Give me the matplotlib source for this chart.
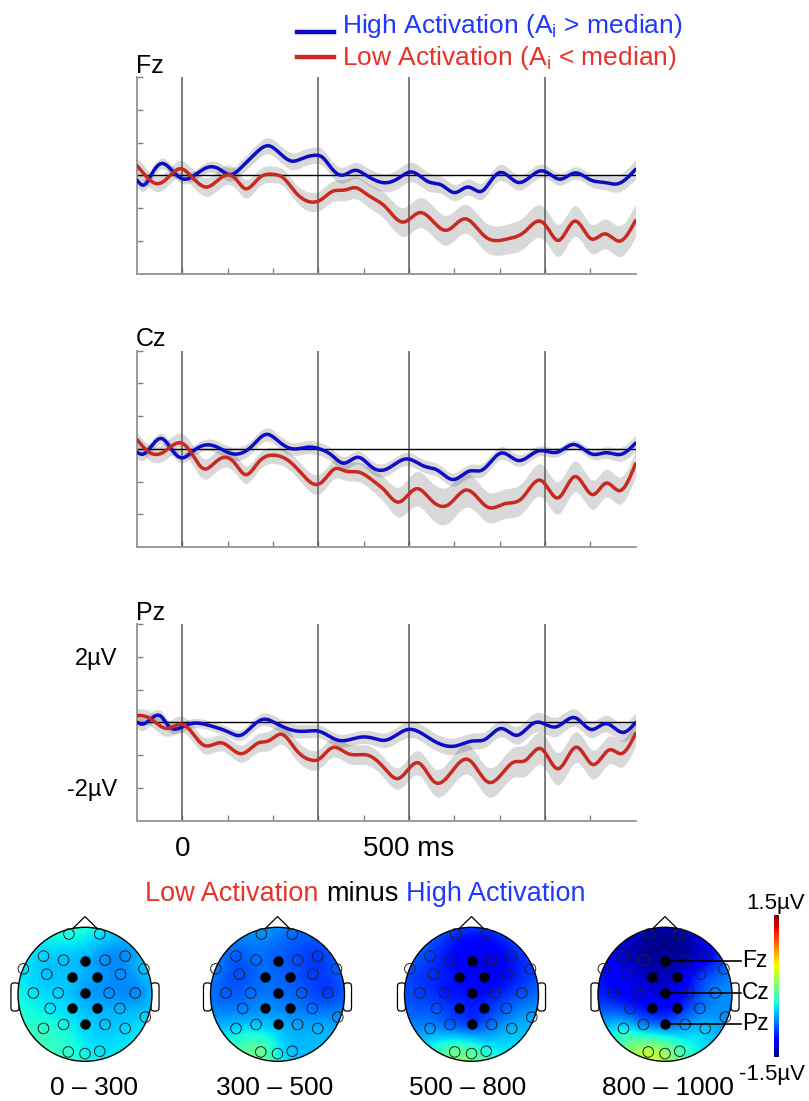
import numpy as np
import matplotlib
matplotlib.use('Agg')
import matplotlib.pyplot as plt
from matplotlib.patches import Circle, Polygon, FancyBboxPatch
from matplotlib.lines import Line2D
import matplotlib.transforms as mtransforms

plt.rcParams['font.family'] = ['Liberation Sans', 'DejaVu Sans']
plt.rcParams['mathtext.fontset'] = 'custom'
plt.rcParams['mathtext.rm'] = 'Liberation Sans'
plt.rcParams['mathtext.it'] = 'Liberation Sans:italic'

# ---------------- data: ERP waveforms (µV) ----------------
FZ_HIGH_T = [-100, -85, -67, -45, -23, 3, 21, 58, 80, 106, 131, 161, 190, 212, 242, 264, 293, 308, 330, 352,
             381, 403, 425, 447, 476, 506, 543, 572, 601, 631, 660, 682, 700, 741, 789, 807, 833, 866, 902,
             932, 961, 1000]
FZ_HIGH_V = [-0.15, -0.3, 0.05, 0.36, 0.15, -0.12, -0.05, 0.25, 0.2, 0.02, 0.25, 0.66, 0.9, 0.71, 0.43, 0.51,
             0.61, 0.56, 0.2, 0.0, 0.15, 0.02, -0.15, -0.23, -0.1, 0.1, -0.2, -0.3, -0.53, -0.36, -0.49, -0.15,
             0.08, -0.22, 0.13, 0.07, -0.12, 0.07, -0.15, -0.22, -0.26, 0.18]
FZ_LOW_T = [-100, -82, -56, -30, -4, 14, 54, 95, 117, 139, 168, 205, 220, 249, 286, 308, 330, 359, 381, 410,
            447, 487, 524, 583, 623, 667, 719, 755, 789, 807, 829, 866, 902, 932, 965, 1000]
FZ_LOW_V = [0.29, 0.0, -0.26, -0.05, 0.2, 0.05, -0.36, 0.0, -0.1, -0.41, -0.1, 0.02, -0.05, -0.51, -0.82,
            -0.73, -0.5, -0.45, -0.38, -0.61, -0.95, -1.43, -1.14, -1.68, -1.33, -1.86, -1.94, -1.73, -1.4,
            -1.63, -1.99, -1.4, -1.94, -1.79, -2.01, -1.38]

CZ_HIGH_T = [-100, -89, -67, -45, -23, -1, 21, 54, 80, 109, 131, 153, 186, 212, 242, 278, 308, 330, 355, 388,
             418, 447, 495, 535, 561, 598, 634, 660, 704, 741, 785, 829, 862, 906, 935, 968, 1000]
CZ_HIGH_V = [-0.1, -0.17, 0.1, 0.31, -0.03, -0.28, -0.1, 0.12, 0.03, -0.15, -0.13, 0.07, 0.44, 0.23, 0.0, 0.05,
             -0.03, -0.2, -0.44, -0.26, -0.56, -0.64, -0.31, -0.54, -0.64, -0.94, -0.68, -0.66, -0.13, -0.36,
             -0.07, -0.1, 0.13, -0.17, -0.12, -0.17, 0.17]
CZ_LOW_T = [-100, -74, -45, -1, 21, 47, 73, 95, 117, 139, 168, 205, 234, 264, 293, 308, 337, 359, 388, 425,
            447, 476, 517, 550, 587, 627, 675, 711, 748, 792, 829, 866, 906, 935, 965, 1000]
CZ_LOW_V = [0.28, -0.1, -0.13, 0.17, -0.15, -0.61, -0.41, -0.26, -0.46, -0.79, -0.41, -0.2, -0.36, -0.77,
            -1.09, -1.02, -0.61, -0.68, -0.71, -1.02, -1.28, -1.63, -1.22, -1.58, -1.71, -1.26, -1.79, -1.68,
            -1.53, -0.97, -1.5, -0.85, -1.4, -1.05, -1.28, -0.46]

PZ_HIGH_T = [-100, -89, -71, -48, -30, -8, 14, 65, 102, 128, 153, 179, 205, 242, 278, 300, 344, 396, 425, 447,
             498, 550, 601, 642, 667, 704, 737, 778, 825, 866, 902, 935, 972, 1000]
PZ_HIGH_V = [0.0, -0.06, 0.08, 0.19, -0.12, -0.19, -0.06, -0.12, -0.3, -0.4, -0.14, 0.09, -0.02, -0.24, -0.27,
             -0.27, -0.55, -0.45, -0.5, -0.55, -0.22, -0.53, -0.73, -0.57, -0.53, -0.19, -0.4, -0.01, -0.14,
             0.14, -0.22, -0.04, -0.31, -0.01]
PZ_LOW_T = [-100, -74, -34, -1, 17, 47, 87, 131, 168, 190, 220, 249, 286, 300, 330, 366, 410, 447, 476, 521,
            557, 631, 675, 733, 755, 792, 829, 869, 906, 943, 968, 1000]
PZ_LOW_V = [0.21, 0.14, -0.19, -0.06, -0.24, -0.7, -0.63, -0.96, -0.63, -0.57, -0.37, -0.81, -1.16, -1.14,
            -0.78, -0.96, -1.01, -1.42, -1.72, -1.24, -1.83, -1.14, -1.83, -1.21, -1.18, -0.81, -1.42, -0.76,
            -1.29, -0.84, -0.96, -0.35]

# standard error (half-width of grey band), every 100 ms
SE_T = [-100, 0, 100, 200, 300, 400, 500, 600, 700, 800, 900, 1000]
FZ_HIGH_SE = [0.2, 0.15, 0.2, 0.25, 0.25, 0.25, 0.3, 0.25, 0.25, 0.2, 0.2, 0.3]
FZ_LOW_SE = [0.25, 0.25, 0.3, 0.25, 0.3, 0.35, 0.45, 0.45, 0.45, 0.5, 0.45, 0.5]
CZ_HIGH_SE = [0.2, 0.15, 0.2, 0.2, 0.2, 0.2, 0.2, 0.2, 0.2, 0.15, 0.15, 0.25]
CZ_LOW_SE = [0.2, 0.3, 0.3, 0.25, 0.3, 0.3, 0.5, 0.55, 0.45, 0.5, 0.45, 0.4]
PZ_HIGH_SE = [0.2, 0.15, 0.15, 0.2, 0.2, 0.2, 0.25, 0.25, 0.25, 0.3, 0.25, 0.3]
PZ_LOW_SE = [0.2, 0.25, 0.25, 0.3, 0.3, 0.3, 0.35, 0.45, 0.45, 0.5, 0.45, 0.4]

CHANNELS = ['Fz', 'Cz', 'Pz']
LEGEND_LABELS = ['High Activation (A$_\\mathrm{i}$ > median)', 'Low Activation (A$_\\mathrm{i}$ < median)']

# ---------------- data: topographies (µV, Low minus High) ----------------
ELECTRODES = ['Fp1', 'Fp2', 'F7', 'F3', 'Fz', 'F4', 'F8', 'FT9', 'FT10', 'FC5', 'FC1', 'FC2', 'FC6',
              'T7', 'C3', 'Cz', 'C4', 'T8', 'CP5', 'CP1', 'CP2', 'CP6', 'TP10',
              'P7', 'P3', 'Pz', 'P4', 'P8', 'O1', 'Oz', 'O2']
TOPO_WINDOWS = ['0 – 300', '300 – 500', '500 – 800', '800 – 1000']
TOPO_0_300 = [-0.35, -0.45, -0.5, -0.55, -0.6, -0.7, -0.7, -0.45, -0.55, -0.55, -0.55, -0.65, -0.7,
              -0.45, -0.5, -0.65, -0.7, -0.72, -0.45, -0.5, -0.6, -0.6, -0.5,
              -0.3, -0.4, -0.5, -0.55, -0.5, -0.3, -0.4, -0.45]
TOPO_300_500 = [-0.7, -0.8, -0.85, -0.8, -0.85, -0.9, -0.95, -0.75, -0.85, -0.9, -0.8, -0.85, -0.95,
                -0.85, -0.8, -0.8, -0.85, -0.95, -0.75, -0.7, -0.75, -0.8, -0.7,
                -0.5, -0.55, -0.6, -0.65, -0.6, -0.1, -0.4, -0.55]
TOPO_500_800 = [-1.0, -1.05, -0.95, -1.1, -1.2, -1.2, -1.05, -0.9, -0.95, -1.0, -1.1, -1.2, -1.1,
                -0.95, -1.05, -1.1, -1.05, -0.9, -0.9, -1.0, -1.0, -0.85, -0.65,
                -0.7, -0.85, -0.95, -0.8, -0.6, -0.1, -0.15, -0.35]
TOPO_800_1000 = [-1.4, -1.4, -1.3, -1.4, -1.4, -1.35, -1.2, -1.1, -0.85, -1.2, -1.35, -1.3, -1.0,
                 -1.1, -1.2, -1.25, -1.05, -0.75, -1.0, -1.1, -1.05, -0.8, -0.7,
                 -0.45, -0.75, -0.85, -0.7, -0.55, 0.2, 0.1, -0.2]
CBAR_LIMITS = (-1.5, 1.5)

# ---------------- layout (positions, not data) ----------------
EL_POS = {
    'Fp1': (-0.24, 0.90), 'Fp2': (0.22, 0.90), 'F7': (-0.62, 0.57), 'F3': (-0.32, 0.51), 'Fz': (0.0, 0.50),
    'F4': (0.30, 0.51), 'F8': (0.60, 0.57), 'FT9': (-0.92, 0.38), 'FT10': (0.88, 0.38),
    'FC5': (-0.57, 0.30), 'FC1': (-0.19, 0.26), 'FC2': (0.18, 0.26), 'FC6': (0.53, 0.30),
    'T7': (-0.77, 0.02), 'C3': (-0.40, 0.02), 'Cz': (0.0, 0.02), 'C4': (0.36, 0.02), 'T8': (0.75, 0.02),
    'CP5': (-0.52, -0.21), 'CP1': (-0.19, -0.21), 'CP2': (0.18, -0.21), 'CP6': (0.52, -0.21),
    'TP10': (0.90, -0.34), 'P7': (-0.62, -0.51), 'P3': (-0.32, -0.45), 'Pz': (0.0, -0.44),
    'P4': (0.30, -0.45), 'P8': (0.60, -0.51), 'O1': (-0.25, -0.86), 'Oz': (0.0, -0.885), 'O2': (0.22, -0.85)}
FILLED = ['Fz', 'FC1', 'FC2', 'Cz', 'CP1', 'CP2', 'Pz']

BLUE = '#0c0cc8'
RED = '#c9291f'
BLUE_TXT = '#2038ff'
RED_TXT = '#e6332a'

W, H = 809, 1101
fig = plt.figure(figsize=(W / 100, H / 100), dpi=100)


def fx(px):
    return px / W


def fy(py):
    return 1 - py / H


def natural_spline(x, y, xs):
    x = np.asarray(x, float)
    y = np.asarray(y, float)
    n = len(x)
    h = np.diff(x)
    A = np.zeros((n, n))
    r = np.zeros(n)
    A[0, 0] = A[-1, -1] = 1
    for i in range(1, n - 1):
        A[i, i - 1] = h[i - 1]
        A[i, i] = 2 * (h[i - 1] + h[i])
        A[i, i + 1] = h[i]
        r[i] = 6 * ((y[i + 1] - y[i]) / h[i] - (y[i] - y[i - 1]) / h[i - 1])
    M = np.linalg.solve(A, r)
    idx = np.clip(np.searchsorted(x, xs) - 1, 0, n - 2)
    x0, x1 = x[idx], x[idx + 1]
    hh = x1 - x0
    a = (x1 - xs) / hh
    b = (xs - x0) / hh
    return a * y[idx] + b * y[idx + 1] + ((a ** 3 - a) * M[idx] + (b ** 3 - b) * M[idx + 1]) * hh ** 2 / 6


PANELS = [
    ('Fz', FZ_HIGH_T, FZ_HIGH_V, FZ_HIGH_SE, FZ_LOW_T, FZ_LOW_V, FZ_LOW_SE, 77),
    ('Cz', CZ_HIGH_T, CZ_HIGH_V, CZ_HIGH_SE, CZ_LOW_T, CZ_LOW_V, CZ_LOW_SE, 350.5),
    ('Pz', PZ_HIGH_T, PZ_HIGH_V, PZ_HIGH_SE, PZ_LOW_T, PZ_LOW_V, PZ_LOW_SE, 624),
]
AX_L, AX_R, AX_H = 137, 635.5, 196.5
tt = np.linspace(-100, 1000, 1101)
for k, (name, tH, vH, seH, tL, vL, seL, top) in enumerate(PANELS):
    ax = fig.add_axes([fx(AX_L), fy(top + AX_H), (AX_R - AX_L) / W, AX_H / H])
    yH = natural_spline(tH, vH, tt)
    yL = natural_spline(tL, vL, tt)
    eH = np.clip(natural_spline(SE_T, seH, tt), 0.05, None)
    eL = np.clip(natural_spline(SE_T, seL, tt), 0.05, None)
    ax.fill_between(tt, yH - eH, yH + eH, color='k', alpha=0.15, lw=0, zorder=1)
    ax.fill_between(tt, yL - eL, yL + eL, color='k', alpha=0.15, lw=0, zorder=1)
    for v in [0, 300, 500, 800]:
        ax.axvline(v, color='#5a5a5a', lw=1.1, zorder=2)
    ax.axhline(0, color='k', lw=1.0, zorder=2)
    ax.plot(tt, yH, color=BLUE, lw=2.5, zorder=3, solid_capstyle='round')
    ax.plot(tt, yL, color=RED, lw=2.5, zorder=4, solid_capstyle='round')
    ax.set_xlim(-100, 1000)
    ax.set_ylim(-3, 3)
    for s in ['top', 'right']:
        ax.spines[s].set_visible(False)
    for s in ['left', 'bottom']:
        ax.spines[s].set_color('#9a9a9a')
        ax.spines[s].set_linewidth(1.4)
    ax.set_xticks(list(range(0, 1000, 100)))
    ax.set_yticks([-2, -1, 0, 1, 2, 3])
    ax.tick_params(axis='both', direction='in', length=4.5, width=1.0, color='#808080')
    ax.tick_params(axis='y', pad=14, labelsize=17)
    ax.tick_params(axis='x', pad=11, labelsize=20)
    if name == 'Pz':
        ax.set_yticklabels(['-2µV', '', '', '', '2µV', ''])
        ax.set_xticklabels(['0', '', '', '', '', '500 ms', '', '', '', ''])
    else:
        ax.set_yticklabels([])
        ax.set_xticklabels([])
    trans = mtransforms.offset_copy(ax.transAxes, fig=fig, x=-1, y=4, units='dots')
    ax.text(0, 1, name, transform=trans, fontsize=18, ha='left', va='baseline')

# legend
for i, (lab, lc, tc, ly, ty) in enumerate([(LEGEND_LABELS[0], BLUE, BLUE_TXT, 32, 33),
                                            (LEGEND_LABELS[1], RED, RED_TXT, 57, 65)]):
    fig.add_artist(Line2D([fx(297), fx(334)], [fy(ly), fy(ly)], color=lc, lw=3.2))
    fig.text(fx(342), fy(ty), lab, color=tc, fontsize=19, ha='left', va='baseline')

# ---------------- topographies ----------------
def green(r):
    out = np.zeros_like(r)
    m = r > 0
    out[m] = r[m] ** 2 * (np.log(r[m]) - 1)
    return out


px = np.array([EL_POS[e][0] for e in ELECTRODES])
py = np.array([EL_POS[e][1] for e in ELECTRODES])
G = green(np.hypot(px[:, None] - px[None, :], py[:, None] - py[None, :]))
gv = np.linspace(-1, 1, 201)
GX, GY = np.meshgrid(gv, gv)
Gg = green(np.hypot(GX.ravel()[:, None] - px[None, :], GY.ravel()[:, None] - py[None, :]))

HEAD_CX = [85, 277.5, 471.5, 665]
LABEL_CX = [94, 275, 468, 668]
HEAD_CY = 994.3
R_PX = 67.0
LIM = 1.25
ims = None
for k, vals in enumerate([TOPO_0_300, TOPO_300_500, TOPO_500_800, TOPO_800_1000]):
    cx = HEAD_CX[k]
    half = LIM * R_PX
    ax = fig.add_axes([fx(cx - half), fy(HEAD_CY + half), 2 * half / W, 2 * half / H])
    ax.set_xlim(-LIM, LIM)
    ax.set_ylim(-LIM, LIM)
    ax.set_aspect('equal')
    ax.axis('off')
    w = np.linalg.solve(G, np.asarray(vals, float))
    Z = (Gg @ w).reshape(GX.shape)
    for side in (-1, 1):
        ear = FancyBboxPatch((side * 1.045 - 0.05, -0.24), 0.10, 0.40,
                             boxstyle='round,pad=0.01,rounding_size=0.05',
                             fc='white', ec='k', lw=0.9, zorder=0)
        ax.add_patch(ear)
    ax.add_patch(Polygon([(-0.18, 0.984), (0, 1.16), (0.18, 0.984)], closed=False, fill=False,
                         ec='k', lw=0.9, zorder=1))
    im = ax.imshow(Z, extent=(-1, 1, -1, 1), origin='lower', cmap='jet',
                   vmin=CBAR_LIMITS[0], vmax=CBAR_LIMITS[1], interpolation='bilinear', zorder=2)
    clip = Circle((0, 0), 1.0, transform=ax.transData)
    im.set_clip_path(clip)
    ax.add_patch(Circle((0, 0), 1.0, fill=False, ec='k', lw=1.0, zorder=3))
    open_e = [e for e in ELECTRODES if e not in FILLED]
    ax.scatter([EL_POS[e][0] for e in open_e], [EL_POS[e][1] for e in open_e], s=58,
               facecolors='none', edgecolors='#222222', linewidths=0.7, zorder=4, clip_on=False)
    ax.scatter([EL_POS[e][0] for e in FILLED], [EL_POS[e][1] for e in FILLED], s=56,
               c='k', linewidths=0, zorder=5)
    fig.text(fx(LABEL_CX[k]), fy(1095), TOPO_WINDOWS[k], fontsize=19, ha='center', va='baseline')
    ims = im
    if k == 3:
        for ch in CHANNELS:
            ex, ey = EL_POS[ch]
            xe = (741 - cx) / R_PX
            ax.plot([ex, xe], [ey, ey], color='k', lw=1.2, zorder=6, clip_on=False)
            ax.text(xe + 0.02, ey, ch, fontsize=16.5, ha='left', va='center', zorder=6)

# title with coloured parts
renderer = fig.canvas.get_renderer()
def twidth(s, size=19.5):
    t = fig.text(0, 0, s, fontsize=size)
    wdt = t.get_window_extent(renderer).width
    t.remove()
    return wdt
space = twidth('a a') - twidth('aa')
x = 145
for s, c in [('Low Activation', RED_TXT), ('minus', 'k'), ('High Activation', BLUE_TXT)]:
    t = fig.text(fx(x), fy(901), s, color=c, fontsize=19.5, ha='left', va='baseline')
    x += t.get_window_extent(renderer).width + space

# colorbar
cax = fig.add_axes([fx(773.5), fy(1057), 5 / W, 142 / H])
cb = fig.colorbar(ims, cax=cax)
cb.outline.set_visible(False)
cb.set_ticks([])
fig.text(fx(805), fy(909), '1.5µV', fontsize=16, ha='right', va='baseline')
fig.text(fx(805), fy(1080), '-1.5µV', fontsize=16, ha='right', va='baseline')

fig.savefig('out.png', dpi=100)
